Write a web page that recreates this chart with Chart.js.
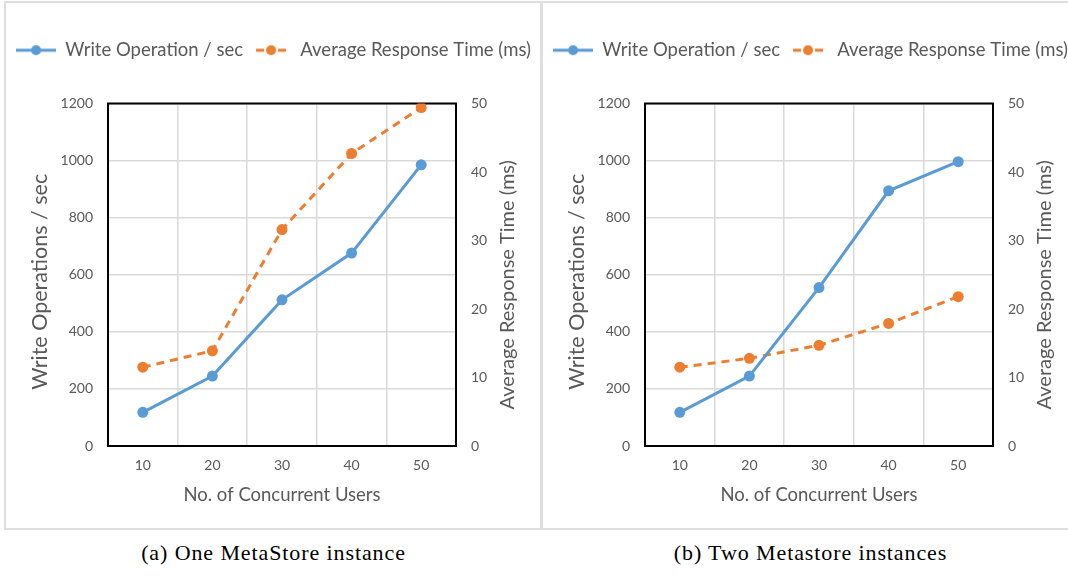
<!DOCTYPE html>
<html>
<head>
<meta charset="utf-8">
<title>MetaStore write throughput</title>
<script src="https://cdn.jsdelivr.net/npm/chart.js@4/dist/chart.umd.min.js"></script>
<style>
  html, body { margin: 0; padding: 0; background: #fff; }
  body { position: relative; width: 1068px; height: 576px; overflow: hidden; }
  .panel { position: absolute; top: 2px; width: 537px; height: 526px; }
  .frame { position: absolute; top: 1px; width: 538px; height: 529px; box-sizing: border-box;
           border: 2px solid #dedede; pointer-events: none; }
  .caption { position: absolute; top: 541px; width: 537px; height: 24px; line-height: 24px;
             text-align: center; font-family: "Liberation Serif", serif; font-size: 22px;
             letter-spacing: 0.9px; color: #000; }
</style>
</head>
<body>
<div class="panel" style="left:5px"><canvas id="one"></canvas></div>
<div class="panel" style="left:542px"><canvas id="two"></canvas></div>
<div class="frame" style="left:4px"></div>
<div class="frame" style="left:541px"></div>
<div class="caption" style="left:5px">(a) One MetaStore instance</div>
<div class="caption" style="left:542px">(b) Two Metastore instances</div>

<script>
// ---- data ----
const users = ['10', '20', '30', '40', '50'];
const writeOpsOne = [118, 245, 512, 676, 985];
const respTimeOne = [11.5, 13.9, 31.6, 42.7, 49.4];
const writeOpsTwo = [118, 245, 555, 894, 996];
const respTimeTwo = [11.5, 12.8, 14.7, 17.9, 21.8];

const BLUE = '#5B9BD5';
const ORANGE = '#ED7D31';
const GREY = '#595959';
const FONT = 'Lato, "Open Sans", sans-serif';

Chart.defaults.font.family = FONT;
Chart.defaults.color = GREY;

/* legend swatch: line with a dot in the middle */
function swatch(color, dashed) {
  const c = document.createElement('canvas');
  c.width = 40; c.height = 12;
  const g = c.getContext('2d');
  g.strokeStyle = color; g.fillStyle = color; g.lineWidth = 3;
  g.beginPath();
  if (dashed) {
    g.moveTo(5, 6); g.lineTo(13, 6);
    g.moveTo(27, 6); g.lineTo(35, 6);
  } else {
    g.moveTo(0, 6); g.lineTo(40, 6);
  }
  g.stroke();
  g.beginPath(); g.arc(20, 6, 5, 0, Math.PI * 2); g.fill();
  return c;
}
const swatches = [swatch(BLUE, false), swatch(ORANGE, true)];

/* black box around the plot area */
const plotFrame = {
  id: 'plotFrame',
  beforeDatasetsDraw(chart) {
    const { ctx, chartArea: a } = chart;
    ctx.save();
    ctx.strokeStyle = '#000';
    ctx.lineWidth = 2;
    ctx.strokeRect(a.left, a.top, a.right - a.left, a.bottom - a.top);
    ctx.restore();
  }
};

/* both value-axis titles, reading bottom to top */
const axisTitles = {
  id: 'axisTitles',
  afterDraw(chart, args, opts) {
    const { ctx } = chart;
    opts.items.forEach(t => {
      const s = chart.scales[t.scale];
      const x = t.scale === 'y' ? s.left + t.offset : s.right - t.offset;
      ctx.save();
      ctx.translate(x, (s.top + s.bottom) / 2 + t.shift);
      ctx.rotate(-Math.PI / 2);
      ctx.font = t.size + 'px ' + FONT;
      ctx.fillStyle = GREY;
      ctx.textAlign = 'center';
      ctx.textBaseline = 'middle';
      ctx.fillText(t.text, 0, 0);
      ctx.restore();
    });
  }
};

function makeChart(id, writeOps, respTime) {
  return new Chart(document.getElementById(id), {
    type: 'line',
    data: {
      labels: users,
      datasets: [
        {
          label: 'Write Operation / sec',
          data: writeOps,
          yAxisID: 'y',
          borderColor: BLUE,
          backgroundColor: BLUE,
          borderWidth: 3,
          pointRadius: 5.5,
          pointBorderWidth: 0,
          tension: 0
        },
        {
          label: 'Average Response Time (ms)',
          data: respTime,
          yAxisID: 'y1',
          borderColor: ORANGE,
          backgroundColor: ORANGE,
          borderWidth: 3,
          borderDash: [8, 6],
          pointRadius: 5.5,
          pointBorderWidth: 0,
          tension: 0
        }
      ]
    },
    options: {
      responsive: true,
      maintainAspectRatio: false,
      animation: false,
      layout: { padding: { top: 31, left: 0, right: 0, bottom: 22 } },
      plugins: {
        tooltip: { enabled: false },
        legend: {
          position: 'top',
          labels: {
            usePointStyle: true,
            pointStyleWidth: 40,
            padding: 8,
            color: GREY,
            font: { size: 18.5 },
            generateLabels(chart) {
              return Chart.defaults.plugins.legend.labels.generateLabels(chart)
                .map((l, i) => ({ ...l, pointStyle: swatches[i] }));
            }
          }
        },
        // empty spacer between legend and plot
        subtitle: { display: true, text: '', weight: 0, font: { size: 10, lineHeight: 1 }, padding: { top: 24, bottom: 0 } },
        axisTitles: {
          items: [
            { scale: 'y', text: 'Write Operations / sec', size: 21.5, offset: 35, shift: 7 },
            { scale: 'y1', text: 'Average Response Time (ms)', size: 20, offset: 34, shift: 10 }
          ]
        }
      },
      scales: {
        x: {
          offset: true,
          grid: { offset: true, color: '#d9d9d9', lineWidth: 1.5, drawTicks: false },
          border: { display: false },
          ticks: { padding: 11, font: { size: 14 }, color: GREY },
          title: { display: true, text: 'No. of Concurrent Users', font: { size: 18.5 }, color: GREY, padding: { top: 0, bottom: 0 } },
          afterFit(scale) { scale.height = 60; }
        },
        y: {
          position: 'left',
          min: 0, max: 1200,
          grid: { color: '#d9d9d9', lineWidth: 1.5, drawTicks: false },
          border: { display: false },
          ticks: { stepSize: 200, padding: 15, font: { size: 14 }, color: GREY, format: { useGrouping: false } },
          afterFit(scale) { scale.width = 103; }
        },
        y1: {
          position: 'right',
          min: 0, max: 50,
          grid: { drawOnChartArea: false, drawTicks: false },
          border: { display: false },
          ticks: { stepSize: 10, padding: 15, font: { size: 14 }, color: GREY },
          afterFit(scale) { scale.width = 86; }
        }
      }
    },
    plugins: [plotFrame, axisTitles]
  });
}

makeChart('one', writeOpsOne, respTimeOne);
makeChart('two', writeOpsTwo, respTimeTwo);
</script>
</body>
</html>
